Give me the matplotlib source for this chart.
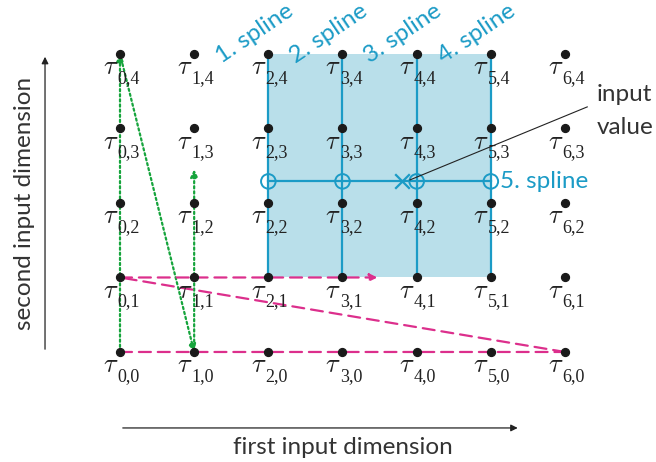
import numpy as np
import matplotlib.pyplot as plt
from matplotlib.patches import Rectangle, FancyArrowPatch

plt.rcParams['mathtext.fontset'] = 'cm'
plt.rcParams['font.family'] = ['Lato', 'DejaVu Sans']

# knot grid
n_cols = 7
n_rows = 5
cols = np.arange(n_cols)
rows = np.arange(n_rows)

# local support (spline) region
spline_cols = [2, 3, 4, 5]
spline_row_lo, spline_row_hi = 1, 4
spline_names = ['1. spline', '2. spline', '3. spline', '4. spline']
input_value = (3.8, 2.29)

# traversal orders
green_path = [(0, 0), (0, 4), (1, 0), (1, 2.45)]
magenta_path = [(0, 0), (6, 0), (0, 1), (3.47, 1)]

blue = '#1b9bc6'
shade = '#b9dfea'
green = '#16a43c'
magenta = '#dc2f8c'
txt = '#333333'

fig = plt.figure(figsize=(6.56, 4.62), dpi=100)
ax = fig.add_axes([0, 0, 1, 1])
ax.set_xlim(-1.618, 7.227)
ax.set_ylim(-1.477, 4.725)
ax.axis('off')

# shaded region and spline lines
ax.add_patch(Rectangle((spline_cols[0], spline_row_lo), spline_cols[-1] - spline_cols[0],
                       spline_row_hi - spline_row_lo, facecolor=shade, edgecolor='none', zorder=0))
for c in spline_cols:
    ax.plot([c, c], [spline_row_lo, spline_row_hi], color=blue, lw=1.6, zorder=1)
ax.plot([spline_cols[0], spline_cols[-1]], [input_value[1]] * 2, color=blue, lw=1.6, zorder=1)
ax.scatter(spline_cols, [input_value[1]] * len(spline_cols), s=110, facecolor='none',
           edgecolor=blue, lw=1.4, zorder=3)
ax.scatter([input_value[0]], [input_value[1]], marker='x', s=110, color=blue, lw=1.6, zorder=3)

for c, name in zip(spline_cols, spline_names):
    ax.text(c - 0.63, spline_row_hi - 0.13, name, color=blue, fontsize=17.5, rotation=34,
            ha='left', va='baseline', rotation_mode='anchor')
ax.text(spline_cols[-1] + 0.12, input_value[1], '5. spline', color=blue, fontsize=17.5,
        ha='left', va='center')

# annotation
ax.plot([3.91, 6.3], [input_value[1] + 0.02, 3.29], color='#222222', lw=0.8, zorder=4)
ax.text(6.43, 3.37, 'input', fontsize=17.5, color=txt, ha='left', va='baseline')
ax.text(6.43, 2.93, 'value', fontsize=17.5, color=txt, ha='left', va='baseline')

# traversal arrows
def draw_path(path, color, ls, lw, heads):
    for (p0, p1), head in zip(zip(path[:-1], path[1:]), heads):
        style = '-|>' if head else '-'
        ax.add_patch(FancyArrowPatch(p0, p1, arrowstyle=style, mutation_scale=11,
                                     color=color, lw=lw, linestyle=ls, shrinkA=0, shrinkB=0,
                                     zorder=2))

draw_path(green_path, green, (0, (1, 1.3)), 1.6, [True, True, True])
draw_path(magenta_path, magenta, (0, (5.4, 3.1)), 1.6, [False, False, True])

# knots
gx, gy = np.meshgrid(cols, rows)
ax.scatter(gx.ravel(), gy.ravel(), s=32, color='#1a1a1a', zorder=5)
for i in cols:
    for j in rows:
        ax.text(i - 0.235, j - 0.27, r'$\tau$', fontsize=19, color='#222222',
                ha='left', va='baseline', zorder=6)
        ax.text(i - 0.035, j - 0.39, '%d,%d' % (i, j), fontsize=13, color='#222222',
                family='Liberation Serif', ha='left', va='baseline', zorder=6)

# input dimension arrows
ax.annotate('', xy=(-1.011, 4.0), xytext=(-1.011, 0),
            arrowprops=dict(arrowstyle='-|>', color='#222222', lw=0.9, mutation_scale=10))
ax.annotate('', xy=(5.4, -1.02), xytext=(0, -1.02),
            arrowprops=dict(arrowstyle='-|>', color='#222222', lw=0.9, mutation_scale=10))
ax.text(-1.29, 1.99, 'second input dimension', rotation=90, fontsize=17.5, color=txt,
        ha='center', va='center')
ax.text(3.0, -1.28, 'first input dimension', fontsize=17.5, color=txt,
        ha='center', va='center')

fig.savefig('out.png', dpi=100)
